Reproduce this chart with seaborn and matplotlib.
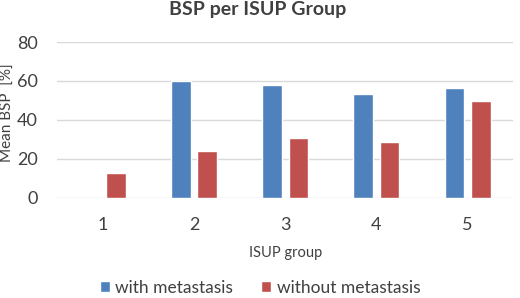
import pandas as pd
import matplotlib.pyplot as plt
import seaborn as sns

groups = ['1', '2', '3', '4', '5']
with_meta = [float('nan'), 60.0, 58.0, 53.5, 56.5]
without_meta = [13.0, 24.2, 30.5, 28.8, 49.8]
series = ['with metastasis', 'without metastasis']
colors = ['#4F81BD', '#C0504D']

df = pd.DataFrame({
    'group': groups * 2,
    'bsp': with_meta + without_meta,
    'series': [series[0]] * 5 + [series[1]] * 5,
})

sns.set_style('white')
plt.rcParams['font.family'] = ['Lato', 'DejaVu Sans']

fig = plt.figure(figsize=(5.2, 2.98), dpi=100)
ax = fig.add_axes([0.11, 0.336, 0.877, 0.523])

sns.barplot(data=df, x='group', y='bsp', hue='series', order=groups,
            hue_order=series, palette=colors, width=0.58, gap=0.26,
            saturation=1, ax=ax, legend=True)

ax.set_ylim(0, 80)
ax.set_yticks([0, 20, 40, 60, 80])
ax.set_xlim(-0.5, 4.5)
ax.yaxis.grid(True, color='#D9D9D9', linewidth=1)
ax.set_axisbelow(True)
for s in ax.spines.values():
    s.set_visible(False)
ax.tick_params(axis='both', length=0, labelsize=13, colors='#404040')
ax.tick_params(axis='x', pad=14)
ax.tick_params(axis='y', pad=14)
ax.set_ylabel('')
fig.text(8 / 520, 1 - 113 / 298, 'Mean BSP  [%]', rotation=90, fontsize=11,
         color='#404040', ha='center', va='center')
ax.set_xlabel('ISUP group', fontsize=10.5, color='#404040', labelpad=9)
fig.suptitle('BSP per ISUP Group', x=0.495, y=0.995, fontsize=14,
             fontweight='bold', color='#404040')

handles, labels = ax.get_legend_handles_labels()
ax.get_legend().remove()
fig.legend(handles, labels, loc='lower center', bbox_to_anchor=(0.5, -0.045),
           ncol=2, frameon=False, fontsize=12.5, handlelength=0.6,
           handleheight=0.6, columnspacing=1.6, handletextpad=0.3,
           labelcolor='#404040')

fig.savefig('out.png', dpi=100)
